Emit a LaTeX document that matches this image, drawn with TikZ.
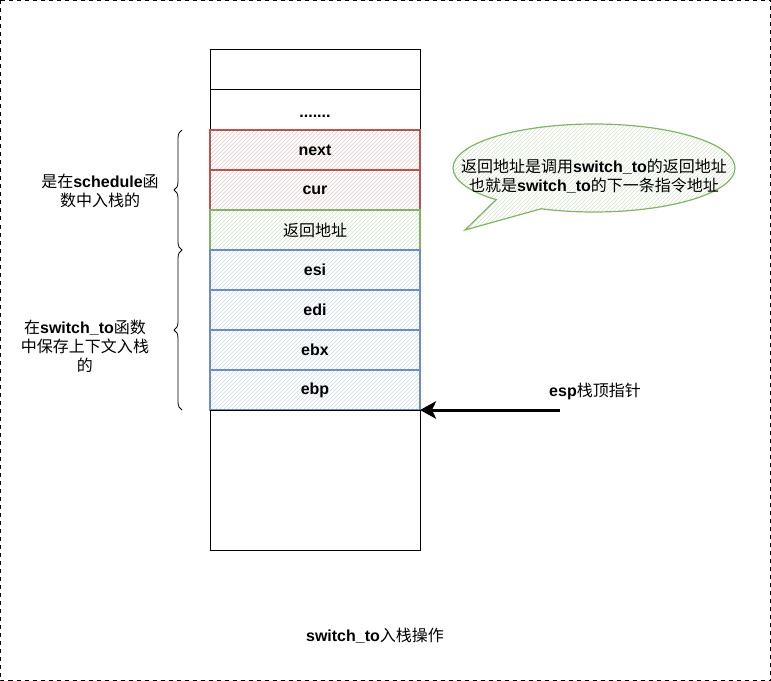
\documentclass[tikz,border=0pt]{standalone}
\usepackage{fontspec}
\setmainfont{Liberation Sans}
\newfontfamily\cjk{Noto Sans CJK SC}
\usetikzlibrary{positioning,patterns,shapes.callouts,decorations.pathreplacing,arrows.meta}
\definecolor{redline}{HTML}{B85450}
\definecolor{greenline}{HTML}{82B366}
\definecolor{blueline}{HTML}{6C8EBF}
\newcommand{\zh}[1]{{\cjk #1}}
\newcommand{\bigtext}{\fontsize{12}{14.4}\selectfont}
\tikzset{
  cell/.style={draw, line width=0.75pt, minimum width=157.5pt, minimum height=30pt, inner sep=0pt, outer sep=0pt, font=\bigtext\bfseries},
  redcell/.style={cell, draw=redline, line width=1.1pt, pattern=north east lines, pattern color=redline!35},
  greencell/.style={cell, draw=greenline, line width=1.1pt, pattern=north east lines, pattern color=greenline!40, font=\bigtext},
  bluecell/.style={cell, draw=blueline, line width=1.1pt, pattern=north east lines, pattern color=blueline!35},
  bracket/.style={decorate, decoration={brace, amplitude=6pt}, line width=0.6pt},
  txt/.style={align=center, inner sep=0pt}
}
\begin{document}
\begin{tikzpicture}[x=0.75pt, y=-0.75pt, font=\bigtext]
  \useasboundingbox (0, 0) rectangle (771, 681);
  \draw[dashed, line width=0.6pt] (0.5, 0.5) rectangle (770.5, 680.5);

  \node[cell] (top) at (315, 70) {};
  \node[cell, below=0pt of top] (dots) {};
  \node[font=\bigtext\bfseries] (dotstext) at ([yshift=-5pt]dots.center) {.......};
  \node[redcell, below=0pt of dots] (next) {next};
  \node[redcell, below=0pt of next] (cur) {cur};
  \node[greencell, below=0pt of cur] (ret) {\zh{返回地址}};
  \node[bluecell, below=0pt of ret] (esi) {esi};
  \node[bluecell, below=0pt of esi] (edi) {edi};
  \node[bluecell, below=0pt of edi] (ebx) {ebx};
  \node[bluecell, below=0pt of ebx] (ebp) {ebp};
  \node[cell, minimum height=105pt, below=0pt of ebp] (base) {};

  \draw[bracket] ([xshift=-21pt]ret.south west) -- ([xshift=-21pt]next.north west);
  \draw[bracket] ([xshift=-21pt]ebp.south west) -- ([xshift=-21pt]esi.north west);
  \node[txt] (schedlabel) at (100, 191) {\zh{是在}\textbf{schedule}\zh{函}\\\zh{数中入栈的}};
  \node[txt] (switchlabel) at (85, 346) {\zh{在}\textbf{switch\_to}\zh{函数}\\\zh{中保存上下文入栈}\\\zh{的}};

  \node[ellipse callout, draw=greenline, line width=0.9pt, pattern=north east lines, pattern color=greenline!35,
        minimum width=211.5pt, minimum height=66pt, callout pointer arc=22, callout absolute pointer={(465, 230)}] (note) at (594, 168) {};
  \node[txt] (notetext) at (594, 176) {\zh{返回地址是调用}\textbf{switch\_to}\zh{的返回地址}\\\zh{也就是}\textbf{switch\_to}\zh{的下一条指令地址}};

  \coordinate (espfrom) at (560, 410);
  \draw[line width=2.25pt, -{Stealth[length=12pt, width=13pt, inset=3pt]}] (espfrom) -- (ebp.south east);
  \node[txt] (esplabel) at (595, 391) {\textbf{esp}\zh{栈顶指针}};

  \node[txt] (caption) at (375, 636) {\textbf{switch\_to}\zh{入栈操作}};
\end{tikzpicture}
\end{document}
